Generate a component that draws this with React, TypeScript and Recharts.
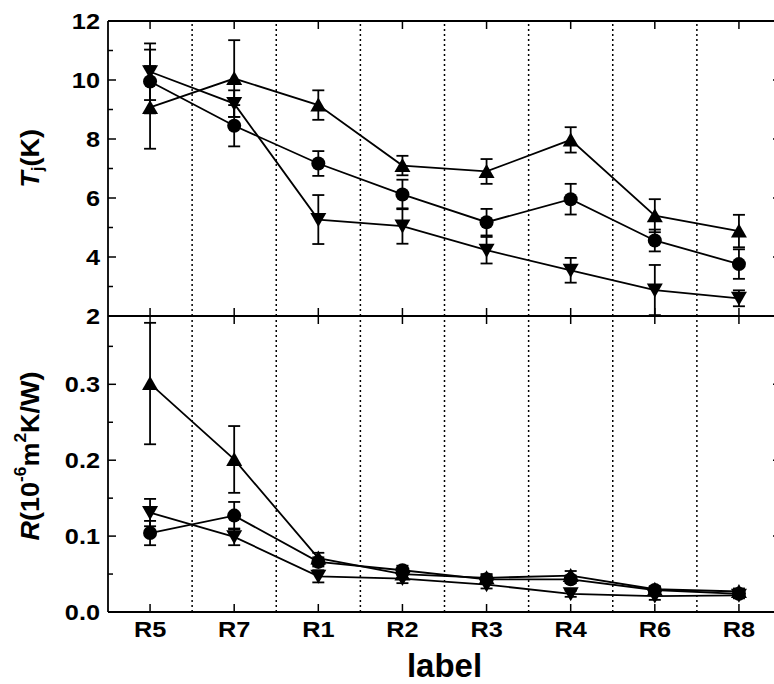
import React from 'react';
import { LineChart, Line, XAxis, YAxis, ErrorBar, ReferenceLine } from 'recharts';

const categories = ['R5', 'R7', 'R1', 'R2', 'R3', 'R4', 'R6', 'R8'];

// upper panel: Tj (K)
const tjUp = [9.07, 10.05, 9.15, 7.1, 6.9, 7.97, 5.4, 4.88];
const tjUpErr = [1.4, 1.3, 0.5, 0.33, 0.42, 0.43, 0.56, 0.55];
const tjCircle = [9.95, 8.45, 7.17, 6.12, 5.18, 5.96, 4.56, 3.76];
const tjCircleErr = [1.08, 0.7, 0.42, 0.5, 0.45, 0.52, 0.37, 0.5];
const tjDown = [10.28, 9.2, 5.27, 5.05, 4.23, 3.55, 2.88, 2.6];
const tjDownErr = [0.96, 0.45, 0.83, 0.6, 0.45, 0.42, 0.85, 0.27];

// lower panel: R (1e-6 m2K/W)
const rUp = [0.301, 0.201, 0.071, 0.05, 0.045, 0.048, 0.03, 0.027];
const rUpErr = [0.08, 0.044, 0.007, 0.006, 0.005, 0.006, 0.004, 0.004];
const rCircle = [0.104, 0.127, 0.066, 0.055, 0.043, 0.043, 0.029, 0.024];
const rCircleErr = [0.016, 0.018, 0.006, 0.006, 0.005, 0.005, 0.004, 0.004];
const rDown = [0.131, 0.099, 0.047, 0.044, 0.036, 0.024, 0.021, 0.022];
const rDownErr = [0.018, 0.011, 0.008, 0.006, 0.005, 0.004, 0.005, 0.004];

const tjTicks = [2, 3, 4, 5, 6, 7, 8, 9, 10, 11, 12];
const rTicks = [0, 0.05, 0.1, 0.15, 0.2, 0.25, 0.3, 0.35];
const catTicks = categories.map((_, i) => i + 0.5);
const dividers = [1, 2, 3, 4, 5, 6, 7];

const tjData = categories.map((label, i) => ({
  pos: i + 0.5,
  label,
  up: tjUp[i],
  upErr: tjUpErr[i],
  circle: tjCircle[i],
  circleErr: tjCircleErr[i],
  down: tjDown[i],
  downErr: tjDownErr[i],
}));

const rData = categories.map((label, i) => ({
  pos: i + 0.5,
  label,
  up: rUp[i],
  upErr: rUpErr[i],
  circle: rCircle[i],
  circleErr: rCircleErr[i],
  down: rDown[i],
  downErr: rDownErr[i],
}));

const FONT = '"Liberation Sans", Arial, Helvetica, sans-serif';
const INK = '#000';
const SW = 1.8;

function Marker({ cx, cy, kind }: any) {
  if (cx == null || cy == null) return null;
  if (kind === 'circle') return <circle cx={cx} cy={cy} r={7} fill={INK} />;
  const d =
    kind === 'up'
      ? `M${cx},${cy - 7.5}L${cx + 8},${cy + 6.5}L${cx - 8},${cy + 6.5}Z`
      : `M${cx},${cy + 7.5}L${cx + 8},${cy - 6.5}L${cx - 8},${cy - 6.5}Z`;
  return <path d={d} fill={INK} />;
}

const dotFor = (kind: string) => (p: any) =>
  <Marker key={`${kind}-${p.index}`} cx={p.cx} cy={p.cy} kind={kind} />;

function LeftTick({ x, y, payload, isMajor, format }: any) {
  const major = isMajor(payload.value);
  return (
    <g>
      <line x1={x} x2={x + (major ? 8 : 5)} y1={y} y2={y} stroke={INK} strokeWidth={1.5} />
      {major && (
        <text
          transform={`translate(${x - 8},${y + 8}) scale(1.15,1)`}
          textAnchor="end"
          fontFamily={FONT}
          fontWeight="bold"
          fontSize={22}
          fill={INK}
        >
          {format(payload.value)}
        </text>
      )}
    </g>
  );
}

function RightTick({ x, y, payload, isMajor }: any) {
  const major = isMajor(payload.value);
  return <line x1={x} x2={x - (major ? 8 : 5)} y1={y} y2={y} stroke={INK} strokeWidth={1.5} />;
}

function TopTick({ x, y }: any) {
  return <line x1={x} x2={x} y1={y} y2={y + 8} stroke={INK} strokeWidth={1.5} />;
}

function BottomTick({ x, y, payload, withLabel }: any) {
  const i = Math.round(payload.value - 0.5);
  return (
    <g>
      <line x1={x} x2={x} y1={y} y2={y - 8} stroke={INK} strokeWidth={1.5} />
      {withLabel && (
        <text
          transform={`translate(${x},${y + 25}) scale(1.15,1)`}
          textAnchor="middle"
          fontFamily={FONT}
          fontWeight="bold"
          fontSize={22}
          fill={INK}
        >
          {categories[i]}
        </text>
      )}
    </g>
  );
}

function TjLabel({ viewBox }: any) {
  const cx = viewBox.x - 18;
  const cy = viewBox.y + viewBox.height / 2 - 10;
  return (
    <text
      transform={`translate(${cx},${cy}) rotate(-90) scale(1.08,1)`}
      textAnchor="middle"
      dominantBaseline="central"
      fontFamily={FONT}
      fontWeight="bold"
      fontSize={25}
      fill={INK}
    >
      <tspan fontStyle="italic">T</tspan>
      <tspan fontSize={16} dy={7}>j</tspan>
      <tspan dy={-7}>(K)</tspan>
    </text>
  );
}

function RLabel({ viewBox }: any) {
  const cx = viewBox.x - 18;
  const cy = viewBox.y + viewBox.height / 2 - 8;
  return (
    <text
      transform={`translate(${cx},${cy}) rotate(-90) scale(1.08,1)`}
      textAnchor="middle"
      dominantBaseline="central"
      fontFamily={FONT}
      fontWeight="bold"
      fontSize={25}
      fill={INK}
    >
      <tspan fontStyle="italic">R</tspan>
      <tspan>(10</tspan>
      <tspan fontSize={16} dy={-10}>-6</tspan>
      <tspan dy={10}>m</tspan>
      <tspan fontSize={16} dy={-10}>2</tspan>
      <tspan dy={10}>K/W)</tspan>
    </text>
  );
}

function XTitle({ viewBox }: any) {
  return (
    <text
      x={viewBox.x + viewBox.width / 2}
      y={viewBox.y + 65}
      textAnchor="middle"
      fontFamily={FONT}
      fontWeight="bold"
      fontSize={33}
      fill={INK}
    >
      label
    </text>
  );
}

const tjMajor = (v: number) => v % 2 === 0;
const rMajor = (v: number) => Math.round(v * 100) % 10 === 0;

function Panel({
  data,
  height,
  margin,
  domain,
  ticks,
  isMajor,
  format,
  yLabel,
  bottomHeight,
  showBottomLabels,
}: any) {
  const axisLine = { stroke: INK, strokeWidth: SW };
  return (
    <LineChart width={800} height={height} data={data} margin={margin}>
      <XAxis
        xAxisId="bottom"
        dataKey="pos"
        type="number"
        domain={[0, 8]}
        ticks={catTicks}
        interval={0}
        allowDataOverflow
        height={bottomHeight}
        tickSize={0}
        tickMargin={0}
        tickLine={false}
        axisLine={axisLine}
        tick={(p: any) => <BottomTick {...p} withLabel={showBottomLabels} />}
        label={showBottomLabels ? (p: any) => <XTitle {...p} /> : undefined}
      />
      <XAxis
        xAxisId="top"
        orientation="top"
        dataKey="pos"
        type="number"
        domain={[0, 8]}
        ticks={catTicks}
        interval={0}
        allowDataOverflow
        height={10}
        tickSize={0}
        tickMargin={0}
        tickLine={false}
        axisLine={axisLine}
        tick={(p: any) => <TopTick {...p} />}
      />
      <YAxis
        yAxisId="left"
        type="number"
        domain={domain}
        ticks={ticks}
        interval={0}
        allowDataOverflow
        width={60}
        tickSize={0}
        tickMargin={0}
        tickLine={false}
        axisLine={axisLine}
        tick={(p: any) => <LeftTick {...p} isMajor={isMajor} format={format} />}
        label={yLabel}
      />
      <YAxis
        yAxisId="right"
        orientation="right"
        type="number"
        domain={domain}
        ticks={ticks}
        interval={0}
        allowDataOverflow
        width={10}
        tickSize={0}
        tickMargin={0}
        tickLine={false}
        axisLine={axisLine}
        tick={(p: any) => <RightTick {...p} isMajor={isMajor} />}
      />
      {dividers.map((d) => (
        <ReferenceLine
          key={d}
          x={d}
          xAxisId="bottom"
          yAxisId="left"
          stroke={INK}
          strokeWidth={1.5}
          strokeDasharray="2 3"
        />
      ))}
      <Line
        xAxisId="bottom"
        yAxisId="left"
        dataKey="up"
        type="linear"
        stroke={INK}
        strokeWidth={SW}
        isAnimationActive={false}
        dot={dotFor('up')}
        activeDot={false}
      >
        <ErrorBar dataKey="upErr" direction="y" width={6} stroke={INK} strokeWidth={SW} />
      </Line>
      <Line
        xAxisId="bottom"
        yAxisId="left"
        dataKey="circle"
        type="linear"
        stroke={INK}
        strokeWidth={SW}
        isAnimationActive={false}
        dot={dotFor('circle')}
        activeDot={false}
      >
        <ErrorBar dataKey="circleErr" direction="y" width={6} stroke={INK} strokeWidth={SW} />
      </Line>
      <Line
        xAxisId="bottom"
        yAxisId="left"
        dataKey="down"
        type="linear"
        stroke={INK}
        strokeWidth={SW}
        isAnimationActive={false}
        dot={dotFor('down')}
        activeDot={false}
      >
        <ErrorBar dataKey="downErr" direction="y" width={6} stroke={INK} strokeWidth={SW} />
      </Line>
    </LineChart>
  );
}

export default function App() {
  return (
    <div
      style={{
        position: 'absolute',
        left: 0,
        top: 0,
        width: 774,
        height: 684,
        overflow: 'hidden',
        background: '#fff',
      }}
    >
      <div style={{ position: 'absolute', left: 0, top: 0 }}>
        <Panel
          data={tjData}
          height={330}
          margin={{ top: 11, right: 9, bottom: 4, left: 48 }}
          domain={[2, 12]}
          ticks={tjTicks}
          isMajor={tjMajor}
          format={(v: number) => String(v)}
          yLabel={(p: any) => <TjLabel {...p} />}
          bottomHeight={10}
          showBottomLabels={false}
        />
      </div>
      <div style={{ position: 'absolute', left: 0, top: 300 }}>
        <Panel
          data={rData}
          height={384}
          margin={{ top: 6, right: 9, bottom: 12, left: 48 }}
          domain={[0, 0.39]}
          ticks={rTicks}
          isMajor={rMajor}
          format={(v: number) => v.toFixed(1)}
          yLabel={(p: any) => <RLabel {...p} />}
          bottomHeight={60}
          showBottomLabels
        />
      </div>
    </div>
  );
}
